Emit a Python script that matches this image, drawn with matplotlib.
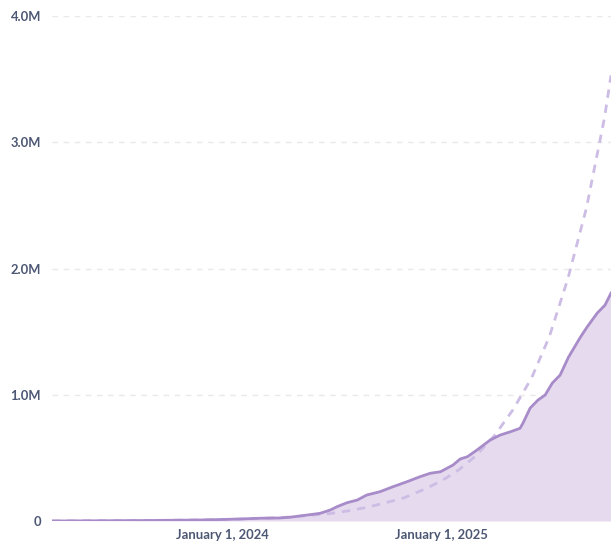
import matplotlib
matplotlib.use("Agg")
import matplotlib.pyplot as plt
import numpy as np
import pandas as pd

# Actual series (values in millions)
dates = ["2023-03-23", "2023-06-11", "2023-09-03", "2023-11-25", "2024-01-01", "2024-01-31",
         "2024-03-05", "2024-04-07", "2024-04-24", "2024-05-10", "2024-05-27", "2024-06-13",
         "2024-06-30", "2024-07-11", "2024-07-28", "2024-08-14", "2024-08-30", "2024-09-21",
         "2024-10-13", "2024-11-05", "2024-11-27", "2024-12-14", "2024-12-31", "2025-01-21",
         "2025-02-02", "2025-02-14", "2025-03-02", "2025-03-24", "2025-04-10", "2025-04-27",
         "2025-05-13", "2025-05-18", "2025-05-30", "2025-06-12", "2025-06-24", "2025-07-06",
         "2025-07-19", "2025-08-02", "2025-08-22", "2025-09-02", "2025-09-19", "2025-10-02",
         "2025-10-12"]
values_m = [0.0, 0.002, 0.004, 0.008, 0.012, 0.016,
            0.022, 0.024, 0.03, 0.04, 0.05, 0.061,
            0.087, 0.113, 0.145, 0.166, 0.206, 0.232,
            0.272, 0.311, 0.351, 0.378, 0.39, 0.443,
            0.491, 0.509, 0.562, 0.641, 0.681, 0.707,
            0.734, 0.776, 0.895, 0.958, 0.998, 1.093,
            1.156, 1.298, 1.457, 1.536, 1.647, 1.71,
            1.805]

# Trend line (values in millions)
trend_dates = ["2023-03-23", "2023-05-01", "2023-07-01", "2023-09-01", "2023-11-01", "2024-01-01",
               "2024-03-01", "2024-05-01", "2024-07-01", "2024-08-01", "2024-09-01", "2024-10-01",
               "2024-11-01", "2024-12-01", "2025-01-01", "2025-02-01", "2025-03-01", "2025-04-01",
               "2025-05-01", "2025-06-01", "2025-07-01", "2025-08-01", "2025-09-01", "2025-10-01",
               "2025-10-12"]
trend_m = [0.0012, 0.0017, 0.0026, 0.004, 0.007, 0.011,
           0.019, 0.033, 0.06, 0.082, 0.11, 0.145,
           0.185, 0.245, 0.315, 0.41, 0.52, 0.68,
           0.88, 1.13, 1.46, 1.92, 2.48, 3.19,
           3.53]

yticks_m = [0, 1, 2, 3, 4]
ytick_labels = ["0", "1.0M", "2.0M", "3.0M", "4.0M"]
xtick_dates = ["2024-01-01", "2025-01-01"]
xtick_labels = ["January 1, 2024", "January 1, 2025"]

plt.rcParams['font.family'] = ['Lato', 'DejaVu Sans']

x = pd.to_datetime(dates)
y = np.array(values_m) * 1e6
tx = pd.to_datetime(trend_dates)
ty = np.array(trend_m) * 1e6

W, H = 611, 545
fig = plt.figure(figsize=(W / 100, H / 100), dpi=100)
ax = fig.add_axes([52 / W, (H - 521) / H, (611 - 52) / W, (521 - 16) / H])

line_color = "#A88BC9"
fill_color = "#E6DAEF"
trend_color = "#CDBDE5"
text_color = "#4C5773"

ax.fill_between(x, 0, y, color=fill_color, linewidth=0, zorder=2)
ax.plot(x, y, color=line_color, linewidth=2.0, zorder=4, solid_joinstyle="round")
ax.plot(tx, ty, color=trend_color, linewidth=2.0, linestyle=(0, (3, 2.5)), zorder=3)

ax.set_xlim(pd.Timestamp("2023-03-23"), pd.Timestamp("2025-10-12"))
ax.set_ylim(0, 4e6)

ax.set_yticks([v * 1e6 for v in yticks_m])
ax.set_yticklabels(ytick_labels)
ax.set_xticks(pd.to_datetime(xtick_dates))
ax.set_xticklabels(xtick_labels)

for s in ax.spines.values():
    s.set_visible(False)
ax.tick_params(axis="both", length=0, labelsize=9.4, labelcolor=text_color)
ax.tick_params(axis="y", pad=8)
ax.tick_params(axis="x", pad=6)
for lab in ax.get_xticklabels() + ax.get_yticklabels():
    lab.set_fontweight("bold")

ax.yaxis.grid(True, color="#E9E9EC", linestyle=(0, (4, 4)), linewidth=1, zorder=0)
ax.set_axisbelow(True)

fig.savefig("out.png", dpi=100)
